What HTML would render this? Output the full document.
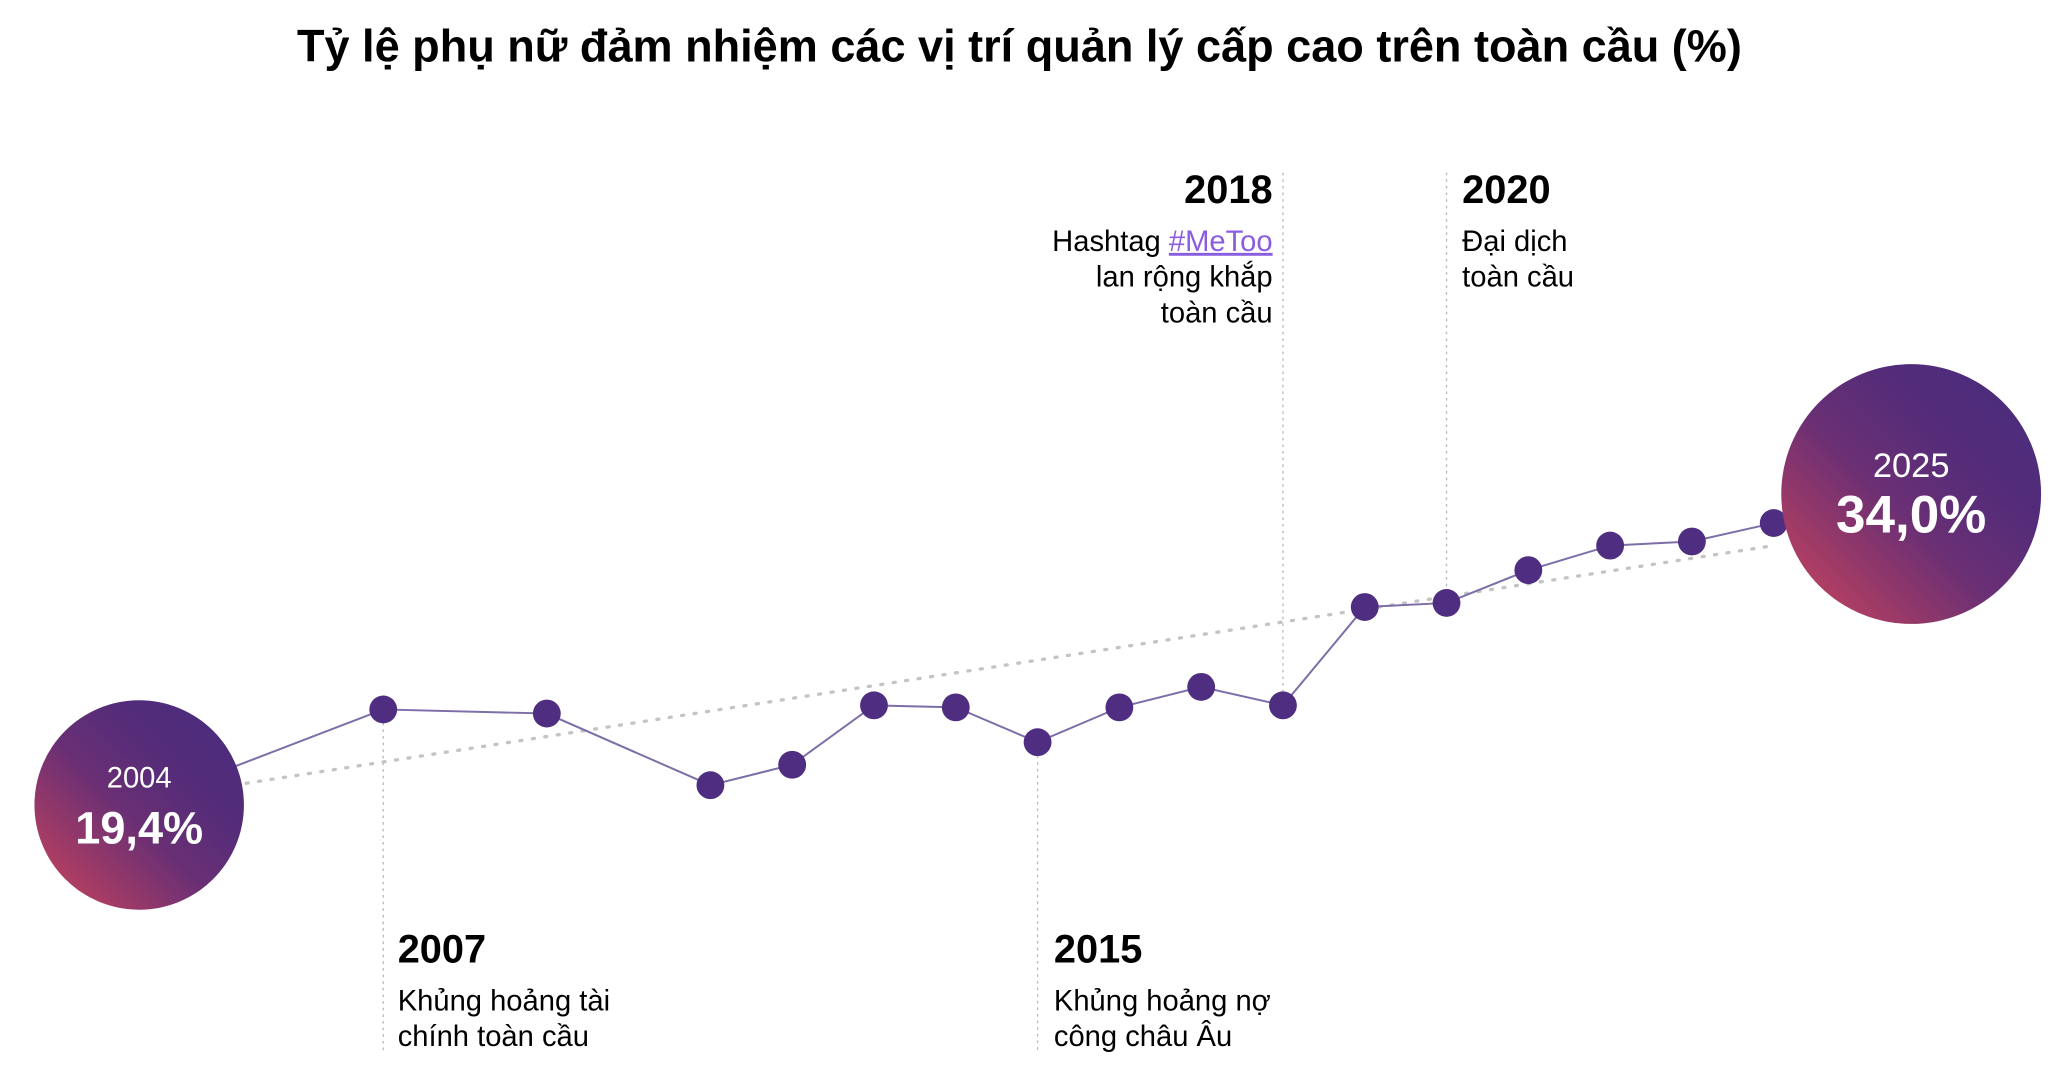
<!DOCTYPE html>
<html><head><meta charset="utf-8"><style>
html,body{margin:0;padding:0;background:#fff;}
svg{display:block;font-family:"Liberation Sans",Arial,sans-serif;}
</style></head><body>
<svg id="chart" width="2068" height="1085" viewBox="0 0 1560 818" xmlns="http://www.w3.org/2000/svg">
<defs>
<linearGradient id="g" x1="0" y1="1" x2="1" y2="0">
<stop offset="0" stop-color="#d0455a"/><stop offset="0.45" stop-color="#6a2f74"/><stop offset="0.7" stop-color="#522c7a"/><stop offset="1" stop-color="#4a2c7e"/>
</linearGradient>
</defs>
<text x="769" y="46" text-anchor="middle" font-size="34" font-weight="bold" fill="#000">Tỷ lệ phụ nữ đảm nhiệm các vị trí quản lý cấp cao trên toàn cầu (%)</text>
<g id="guides"></g>
<g id="trend"></g>
<g id="series"></g>
<g id="bubbles"></g>
<g>
<text x="300" y="726" font-size="30" font-weight="bold">2007</text>
<text x="300" y="762" font-size="22">Khủng hoảng tài</text>
<text x="300" y="789" font-size="22">chính toàn cầu</text></g>
<g>
<text x="795" y="726" font-size="30" font-weight="bold">2015</text>
<text x="795" y="762" font-size="22">Khủng hoảng nợ</text>
<text x="795" y="789" font-size="22">công châu Âu</text></g>
<g text-anchor="end">
<text x="960" y="153" font-size="30" font-weight="bold">2018</text>
<text x="960" y="189" font-size="22">Hashtag <tspan fill="#8a5ce0" text-decoration="underline">#MeToo</tspan></text>
<text x="960" y="216" font-size="22">lan rộng khắp</text>
<text x="960" y="243" font-size="22">toàn cầu</text></g>
<g>
<text x="1103" y="153" font-size="30" font-weight="bold">2020</text>
<text x="1103" y="189" font-size="22">Đại dịch</text>
<text x="1103" y="216" font-size="22">toàn cầu</text></g>
</svg>
<script>
const years=[2004,2007,2009,2011,2012,2013,2014,2015,2016,2017,2018,2019,2020,2021,2022,2023,2024,2025];
const values=[19.4,24.0,23.8,20.3,21.3,24.2,24.1,22.4,24.1,25.1,24.2,29.0,29.2,30.8,32.0,32.2,33.1,34.0];
const trendYears=[2005,2024];
const trendValues=[20.2,32.0];
const eventYears=[2007,2015,2018,2020];
const NS="http://www.w3.org/2000/svg";
function xs(y){return 104+(y-2004)*61.7;}
function ys(v){return 606-(v-19.4)*15.45;}
function mk(t,a,p){const e=document.createElementNS(NS,t);for(const k in a)e.setAttribute(k,a[k]);p.appendChild(e);return e;}
const gG=document.getElementById('guides'),gT=document.getElementById('trend'),gS=document.getElementById('series'),gB=document.getElementById('bubbles');
const guideTop={2007:null,2015:null,2018:130,2020:130};
eventYears.forEach(y=>{
 const i=years.indexOf(y);const x=xs(y);const vy=ys(values[i]);
 const up=guideTop[y]!==null;
 const l=mk('line',{x1:x,x2:x,y1:up?guideTop[y]:vy+10,y2:up?vy-10:792,stroke:'#b8b8c8','stroke-width':1,'stroke-dasharray':'2,3'},gG);
 
 
});
const tl=mk('line',{x1:xs(trendYears[0])+20,y1:ys(trendValues[0])-3,x2:xs(trendYears[1]),y2:ys(trendValues[1]),stroke:'#c4c4c4','stroke-width':2.5,'stroke-dasharray':'1.5,8','stroke-linecap':'round'},gT);


const pts=years.map((y,i)=>xs(y)+','+ys(values[i])).join(' ');
const pl=mk('polyline',{points:pts,fill:'none',stroke:'#7d6ea8','stroke-width':1.5},gS);


years.forEach((y,i)=>{
 if(i===0||i===years.length-1)return;
 const c=mk('circle',{cx:xs(y),cy:ys(values[i]),r:10.5,fill:'#4f2d80'},gS);
 
 
});
function bubble(i,r,cxOff,cyOff,fs1,fs2){
 const cx=xs(years[i])+cxOff,cy=ys(values[i])+cyOff;
 const g=mk('g',{},gB);
 
 
 mk('circle',{cx:cx,cy:cy,r:r,fill:'url(#g)'},g);
 const t1=mk('text',{x:cx,y:cy-13,'text-anchor':'middle','font-size':fs1,fill:'#fff'},g);t1.textContent=years[i];
 const t2=mk('text',{x:cx,y:cy+29,'text-anchor':'middle','font-size':fs2,'font-weight':'bold',fill:'#fff'},g);t2.textContent=values[i].toFixed(1).replace('.',',')+'%';
}
bubble(0,79,1,1,22,34);
bubble(years.length-1,98,42,-8,26,40);
</script>
</body></html>
